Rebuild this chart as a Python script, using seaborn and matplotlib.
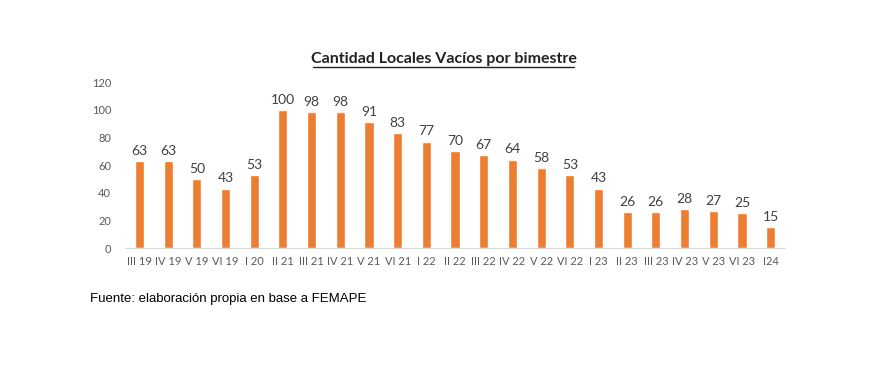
import matplotlib
matplotlib.use("Agg")
import matplotlib.pyplot as plt
import seaborn as sns
import pandas as pd

bimestres = ["III 19", "IV 19", "V 19", "VI 19", "I 20", "II 21", "III 21", "IV 21",
             "V 21", "VI 21", "I 22", "II 22", "III 22", "IV 22", "V 22", "VI 22",
             "I 23", "II 23", "III 23", "IV 23", "V 23", "VI 23", "I24"]
locales = [63, 63, 50, 43, 53, 100, 98, 98, 91, 83, 77, 70, 67, 64, 58, 53,
           43, 26, 26, 28, 27, 25, 15]

datos = pd.DataFrame({"Bimestre": bimestres, "Locales": locales})

sns.set_style("white")
plt.rcParams["font.family"] = ["Lato", "DejaVu Sans"]

fig = plt.figure(figsize=(8.87, 3.68), dpi=100)
ax = fig.add_axes([0.141, 0.326, 0.744, 0.451])
sns.barplot(datos, x="Bimestre", y="Locales", color="#ED7D31", width=0.32,
            saturation=1, ax=ax)

for i, v in enumerate(locales):
    ax.text(i, v + 3, str(v), ha="center", va="bottom", fontsize=10, color="#404040")

ax.set_ylim(0, 120)
ax.set_yticks(range(0, 121, 20))
ax.tick_params(axis="both", length=0, labelsize=8, labelcolor="#595959")
ax.tick_params(axis="y", pad=10)
ax.tick_params(axis="x", pad=6)
ax.set_xlabel("")
ax.set_ylabel("")
for s in ["top", "right", "left"]:
    ax.spines[s].set_visible(False)
ax.spines["bottom"].set_color("#d9d9d9")

fig.text(0.5, 0.83, "Cantidad Locales Vacíos por bimestre", ha="center",
         fontsize=11.5, fontweight="bold", color="#222222")
fig.add_artist(plt.Line2D([0.353, 0.647], [0.818, 0.818], color="#222222", lw=1))

fig.text(0.101, 0.18, "Fuente: elaboración propia en base a FEMAPE",
         fontsize=9.5, family="Liberation Sans", color="black")

plt.savefig("out.png", dpi=100)
